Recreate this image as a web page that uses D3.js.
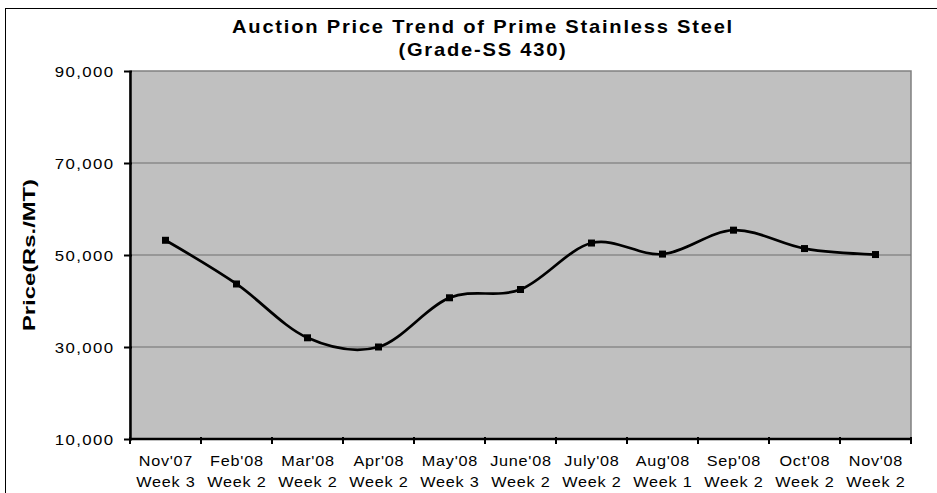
<!DOCTYPE html>
<meta charset="utf-8">
<script src="https://d3js.org/d3.v7.min.js"></script>
<style>
  body { margin: 0; background: #fff; }
  text { font-family: "Liberation Sans", Arial, sans-serif; fill: #000; }
</style>
<body>
<div id="chart"></div>
<script>
// ---- data ----
var months = ["Nov'07", "Feb'08", "Mar'08", "Apr'08", "May'08", "June'08",
              "July'08", "Aug'08", "Sep'08", "Oct'08", "Nov'08"];
var weeks = ["Week 3", "Week 2", "Week 2", "Week 2", "Week 3", "Week 2",
             "Week 2", "Week 1", "Week 2", "Week 2", "Week 2"];
var prices = [53200, 43700, 32000, 30000, 40700, 42500,
              52600, 50200, 55400, 51400, 50100];
var yTicks = [10000, 30000, 50000, 70000, 90000];

var W = 937, H = 493;
var plot = { left: 130, right: 911, top: 71, bottom: 439 };

var svg = d3.select("#chart").append("svg")
    .attr("width", W)
    .attr("height", H);

// outer chart frame (runs off the right / bottom edge like the picture)
svg.append("rect")
    .attr("x", 5.5).attr("y", 8.5)
    .attr("width", W + 20).attr("height", H + 20)
    .attr("fill", "#fff")
    .attr("stroke", "#000")
    .attr("stroke-width", 1);

var x = d3.scaleBand()
    .domain(months)
    .range([plot.left, plot.right])
    .padding(0);

var y = d3.scaleLinear()
    .domain([10000, 90000])
    .range([plot.bottom, plot.top]);

// plot area
svg.append("rect")
    .attr("x", plot.left).attr("y", plot.top)
    .attr("width", plot.right - plot.left)
    .attr("height", plot.bottom - plot.top)
    .attr("fill", "#c0c0c0")
    .attr("stroke", "#808080")
    .attr("stroke-width", 1.5);

// gridlines
svg.append("g")
  .selectAll("line")
  .data(yTicks.slice(1, -1))
  .join("line")
    .attr("x1", plot.left).attr("x2", plot.right)
    .attr("y1", d => y(d)).attr("y2", d => y(d))
    .attr("stroke", "#6e6e6e")
    .attr("stroke-width", 1.2);

// y axis
var yAxis = svg.append("g")
    .attr("transform", "translate(" + plot.left + ",0)")
    .call(d3.axisLeft(y).tickValues(yTicks).tickSize(6).tickSizeOuter(0).tickFormat(""));
yAxis.select(".domain").attr("stroke", "#000").attr("stroke-width", 2.5);
yAxis.selectAll(".tick line").attr("stroke", "#000").attr("stroke-width", 2).attr("x2", -6).attr("x1", 2);

// y tick labels (a bit wide and spaced like the original)
svg.append("g")
  .selectAll("g")
  .data(yTicks)
  .join("g")
    .attr("transform", d => "translate(114.5," + (y(d) + 5.5) + ") scale(1.12,1)")
  .append("text")
    .attr("text-anchor", "end")
    .style("font-size", "15px")
    .style("letter-spacing", "1.25px")
    .text(d3.format(","));

// x axis with ticks on band boundaries
var xAxis = svg.append("g")
    .attr("transform", "translate(0," + plot.bottom + ")");
xAxis.append("line")
    .attr("x1", plot.left).attr("x2", plot.right)
    .attr("stroke", "#000").attr("stroke-width", 2.5);
var bounds = months.map(d => x(d)).concat([x(months[months.length - 1]) + x.bandwidth()]);
xAxis.selectAll(".tk")
  .data(bounds)
  .join("line")
    .attr("class", "tk")
    .attr("x1", d => d).attr("x2", d => d)
    .attr("y1", -2).attr("y2", 5)
    .attr("stroke", "#000").attr("stroke-width", 2);

// x labels, two lines
var xl = svg.append("g")
  .selectAll("g")
  .data(months)
  .join("g")
    .attr("transform", d => "translate(" + (x(d) + x.bandwidth() / 2 + 0.4) + ",0) scale(1.08,1)");
xl.append("text")
    .attr("y", 466)
    .attr("text-anchor", "middle")
    .style("font-size", "15px")
    .style("letter-spacing", "0.7px")
    .text(d => d);
xl.append("text")
    .attr("y", 487)
    .attr("text-anchor", "middle")
    .style("font-size", "15px")
    .style("letter-spacing", "0.7px")
    .text((d, i) => weeks[i]);

// line
var pts = months.map((m, i) => [x(m) + x.bandwidth() / 2, y(prices[i])]);
svg.append("path")
    .datum(pts)
    .attr("fill", "none")
    .attr("stroke", "#000")
    .attr("stroke-width", 2.7)
    .attr("d", d3.line().curve(d3.curveCatmullRom.alpha(0)));

// markers
svg.append("g")
  .selectAll("rect")
  .data(pts)
  .join("rect")
    .attr("x", d => d[0] - 3.5).attr("y", d => d[1] - 3.5)
    .attr("width", 7).attr("height", 7)
    .attr("fill", "#000");

// title
var title = svg.append("g")
    .attr("transform", "translate(483,0) scale(1.15,1)");
title.append("text")
    .attr("y", 33)
    .attr("text-anchor", "middle")
    .style("font-size", "17.5px")
    .style("font-weight", "bold")
    .style("letter-spacing", "1.55px")
    .text("Auction Price Trend of Prime Stainless Steel");
title.append("text")
    .attr("y", 56)
    .attr("text-anchor", "middle")
    .style("font-size", "17.5px")
    .style("font-weight", "bold")
    .style("letter-spacing", "1.55px")
    .text("(Grade-SS 430)");

// y axis title
svg.append("g")
    .attr("transform", "translate(35," + ((plot.top + plot.bottom) / 2) + ") rotate(-90) scale(1.4,1)")
  .append("text")
    .attr("text-anchor", "middle")
    .style("font-size", "17px")
    .style("font-weight", "bold")
    .text("Price(Rs./MT)");
</script>
</body>
